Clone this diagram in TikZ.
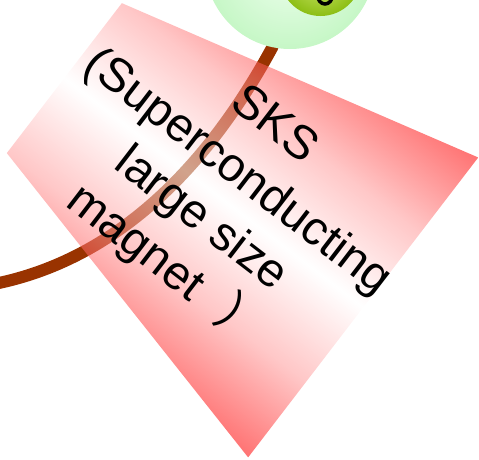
\documentclass[tikz,border=0pt]{standalone}
\usepackage{fontspec}
\setmainfont{Liberation Sans}
\newfontfamily\cjk{Noto Sans CJK SC}
\pgfdeclarelayer{bg}
\pgfsetlayers{bg,main}
\definecolor{branch}{RGB}{153,51,0}
\definecolor{bubblein}{RGB}{240,255,240}
\definecolor{bubbleout}{RGB}{198,247,198}
\definecolor{ballin}{RGB}{214,236,120}
\definecolor{ballout}{RGB}{140,190,20}
\pgfdeclareverticalshading{fanshade}{100bp}{
  color(0bp)=(red); color(25bp)=(red); color(37.5bp)=(red!40);
  color(50bp)=(white); color(62.5bp)=(red!40); color(75bp)=(red); color(100bp)=(red)}
\tikzset{
  bubble/.style={circle, inner sep=0pt, minimum size=170pt, shading=radial,
    inner color=bubblein, outer color=bubbleout},
  ball/.style={circle, inner sep=0pt, minimum size=82pt, shading=radial,
    inner color=ballin, outer color=ballout},
  branchline/.style={draw=branch, line width=12pt, line join=round},
  fan/.style={shading=fanshade, fill opacity=0.55},
  label/.style={align=center, inner sep=0pt, text=black,
    font=\fontsize{47.5}{59.5}\selectfont}
}
\begin{document}
\begin{tikzpicture}[x=1pt,y=1pt]
\useasboundingbox (0,-459) rectangle (479,0);
% central bubble
\node[bubble] (bubble) at (290,36) {};
\node[ball] (core) at (320.5,25) {};
\draw[black, line width=3.5pt] (325,5) ellipse [x radius=7.5pt, y radius=9pt];
% branch
\coordinate (branchend) at (-6,-284);
\begin{pgfonlayer}{bg}
\path[branchline] (bubble.center) -- (bubble.-102)
  .. controls (222,-140) and (135,-256) .. (branchend);
\end{pgfonlayer}
% fan shape
\begin{scope}[transform canvas={rotate=-37.5}]
\shade[fan] (98.6,71.7) -- (475.3,166.2) -- (475.3,-211.8) -- (98.6,-117.3) -- cycle;
\end{scope}
\node[label, rotate=-37.5] (sks) at (218.5,-197.0)
  {SKS\\(Superconducting\\large size\\magnet\hspace{0.6em}{\cjk ）}\hspace{-0.7em}};
\end{tikzpicture}
\end{document}
